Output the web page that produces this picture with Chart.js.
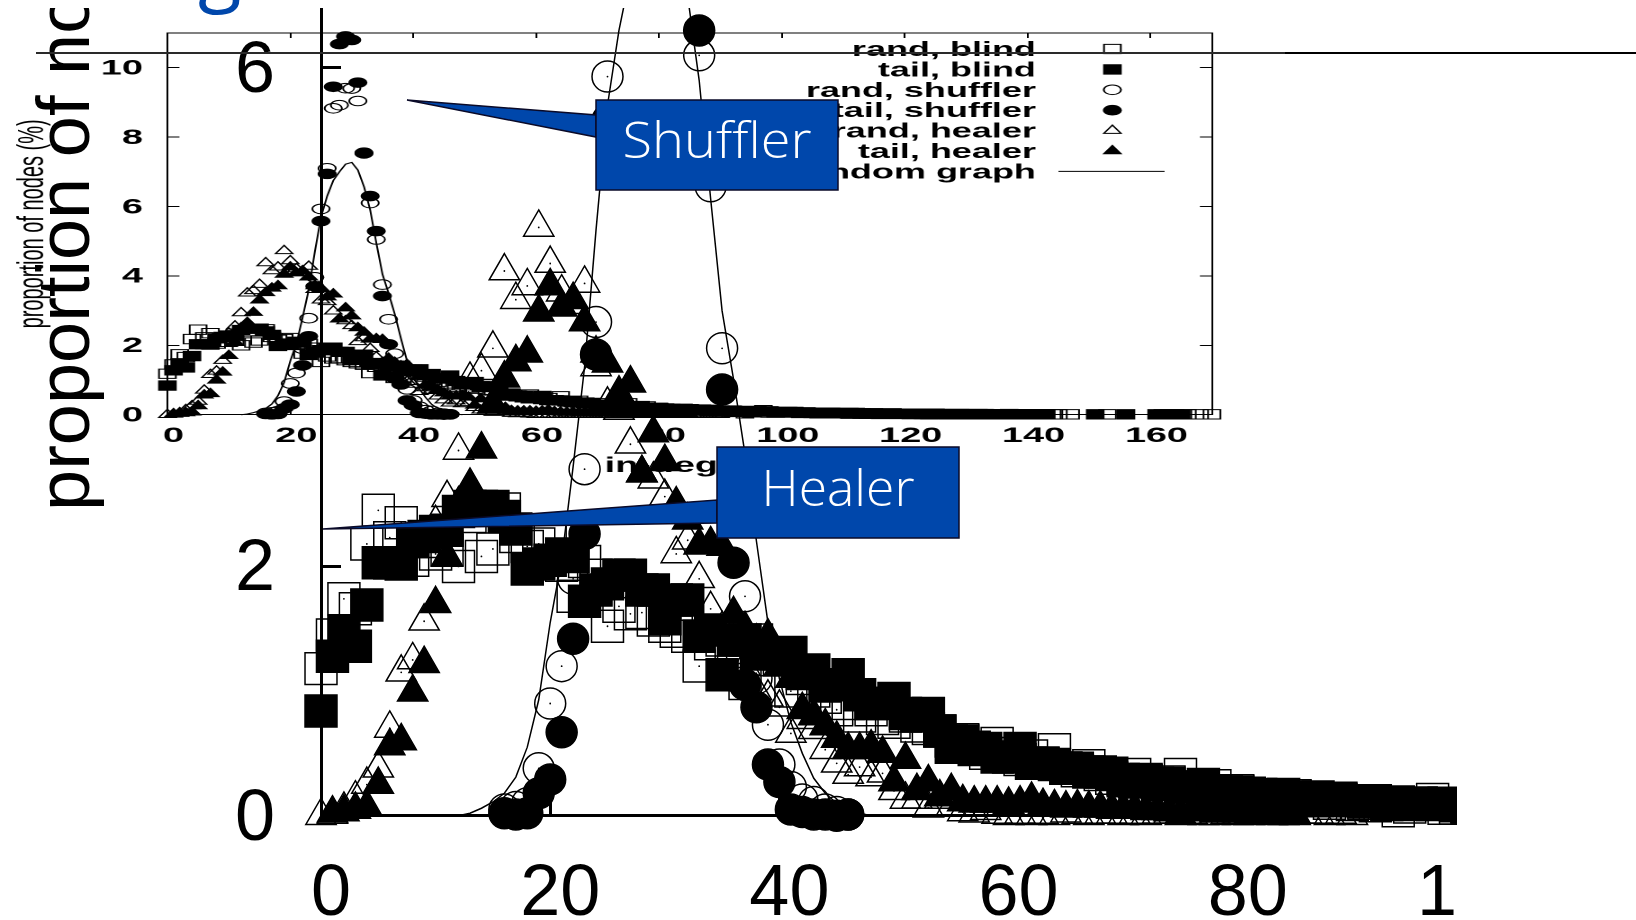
<!DOCTYPE html>
<html>
<head>
<meta charset="utf-8">
<title>in-degree distribution</title>
<script src="https://cdn.jsdelivr.net/npm/chart.js@4/dist/chart.umd.min.js"></script>
<style>
  html, body { margin: 0; padding: 0; background: #fff; overflow: hidden; }
  #stage { position: relative; width: 1636px; height: 920px; overflow: hidden; background: #fff; }
  #insetBox { position: absolute; left: 0; top: 0; transform-origin: 0 0; transform: scaleX(1.8); }
  #mainBox { position: absolute; left: 0; top: 8px; width: 1457px; height: 912px; overflow: hidden; }
  #mainBox canvas { position: absolute; left: 0; top: -68px; }
  #rule { position: absolute; left: 36px; right: 0; top: 52px; height: 2px; background: linear-gradient(to right, #2a2a2a 1249px, #000 1249px); }
  #blueG { position: absolute; left: 198px; top: -90px; font: 80px "Open Sans", sans-serif; color: #0047ab; }
  #marks { position: absolute; left: 0; top: 0; }
</style>
</head>
<body>
<div id="stage">
  <div id="insetBox"><canvas id="insetChart" width="683" height="500"></canvas></div>
  <div id="mainBox"><canvas id="mainChart" width="1560" height="980"></canvas></div>
  <div id="blueG">g</div>
  <div id="rule"></div>
  <svg id="marks" width="1636" height="920" font-family="Open Sans" font-weight="300">
    <polygon points="407,100 596,115 596,137" fill="#0047ab" stroke="#0a0a28" stroke-width="1.5"/>
    <rect x="596" y="100" width="242" height="90" fill="#0047ab" stroke="#0a0a28" stroke-width="1.5"/>
    <text x="717" y="158" fill="#fff" font-size="50" text-anchor="middle" textLength="189" lengthAdjust="spacingAndGlyphs">Shuffler</text>
    <polygon points="323,529 717,500 717,523" fill="#0047ab" stroke="#0a0a28" stroke-width="1.5"/>
    <rect x="717" y="447" width="242" height="91" fill="#0047ab" stroke="#0a0a28" stroke-width="1.5"/>
    <text x="838" y="506" fill="#fff" font-size="50" text-anchor="middle" textLength="153" lengthAdjust="spacingAndGlyphs">Healer</text>
  </svg>
</div>
<script>
const randBlind = [1.18,1.45,1.74,1.66,2.18,2.45,2.23,2.35,2.05,2.2,2.1,2.13,2.0,2.4,2.08,2.14,2.46,2.24,2.16,2.18,
  2.21,2.01,1.76,2.04,1.93,1.52,1.68,1.62,1.63,1.57,1.52,1.48,1.44,1.2,1.38,1.41,1.35,1.06,1.41,1.25,
  1.25,1.0,1.1,1.0,.95,.85,.9,.8,.85,.78,.75,.8,.72,.7,.68,.6,.61,.55,.5,.58,
  .5,.45,.48,.42,.53,.38,.36,.4,.33,.3,.28,.33,.28,.25,.27,.33,.22,.2,.24,.18,
  .2,.17,.16,.14,.15,.16,.13,.12,.1,.13,.09,.1,.08,.09,.04,.07,.1,.13,.06,.06,
  .07,.06,.08,.05,.06,.05,.04,.05,.06,.04,.04,.03,.05,.03,.03,.04,.02,.03,.03,.02,
  .03,.02,.02,.02,.01,.02,.02,.01,.01,.02,.01,.01,.02,.01,.01,.01,.01,.01,.01,.01,
  .01,.01,.01,.01,.01,.01,null,.01,null,null,null,null,null,.01,null,null,null,null,null,null,
  null,null,null,null,null,null,.01,null,.01,null,.01];
const tailBlind = [.84,1.28,1.48,1.36,1.69,2.03,2.03,2.02,2.2,2.24,2.28,2.29,2.44,2.48,2.48,2.48,2.4,2.3,1.98,2.02,
  2.05,2.1,2.08,1.72,1.81,1.86,1.93,1.93,1.81,1.81,1.58,1.73,1.73,1.44,1.49,1.13,1.41,1.41,1.3,1.3,
  1.3,1.31,1.14,1.17,1.04,1.05,1.13,.97,.9,.9,.94,.82,.8,.82,.68,.55,.6,.53,.54,.47,
  .47,.54,.42,.42,.41,.38,.38,.35,.35,.34,.29,.27,.29,.26,.26,.23,.23,.25,.2,.19,
  .19,.18,.17,.16,.17,.15,.14,.15,.13,.14,.12,.11,.12,.1,.11,.09,.1,.09,.1,.08,
  .07,.08,.07,.06,.07,.06,.05,.06,.05,.05,.04,.05,.04,.04,.03,.04,.03,.03,.04,.03,
  .03,.02,.03,.02,.02,.03,.02,.02,.01,.02,.02,.01,.01,.02,.01,.01,.01,.02,.01,.01,
  .01,.01,.01,.01,null,null,null,null,null,null,null,.01,null,null,null,null,.01,null,null,null,
  null,.01,.01,.01,.01,.01];
const randShuffler = [null,null,null,null,null,null,null,null,null,null,null,null,null,null,null,null,.05,.07,.1,.38,
  .9,1.2,1.9,2.78,3.96,5.93,7.1,8.83,8.92,9.41,9.4,9.04,7.55,6.1,5.05,3.75,2.75,1.76,1.1,.73,
  .41,.23,.13,.11,.05,.03,.01];
const tailShuffler = [null,null,null,null,null,null,null,null,null,null,null,null,null,null,null,null,.02,.01,.02,.18,
  .29,.67,1.42,2.26,3.7,5.58,6.94,9.45,10.68,10.9,10.8,9.57,7.53,6.3,5.29,3.42,2.03,1.05,.87,.41,
  .27,.05,.03,.01,.01,0,.01];
const randHealer = [0,.01,.05,.14,.25,.38,.7,1.15,1.25,1.56,2.35,2.55,2.93,3.5,3.57,3.75,4.37,4.14,4.25,4.72,
  4.43,4.2,4.1,4.27,3.6,3.3,3.25,2.98,2.75,2.7,2.56,2.1,2.21,1.9,1.66,1.5,1.4,1.2,1.0,.95,
  .87,.66,.77,.69,.53,.42,.33,.39,.31,.34,.2,.13,.13,.06,.13,.07,.03,.02,.04,.01,
  0,.01,0,.01,0,.02,.01,0,.01,.01,0,.01,0,.01,.01,0,.01,0,0,.01,
  0,0,.01,0,0,0,.01,.01,0,.01,0];
const tailHealer = [null,.02,.03,.05,.07,.25,.56,.6,.99,1.22,1.7,2.08,2.5,2.65,2.94,3.3,3.51,3.64,3.71,4.04,
  4.25,4.08,4.14,3.96,3.71,3.63,3.39,3.47,2.75,3.07,2.84,2.5,2.37,2.17,2.18,2.16,1.62,1.5,1.4,1.44,
  1.2,1.1,.85,.8,.72,.62,.53,.53,.55,.5,.27,.45,.2,.27,.15,.2,.11,.1,.1,.1,
  .09,.1,.13,.08,.07,.06,.07,.06,.06,.05,.05,.05,.04,.04,.03,.01,.03,.04,.02,.03,
  .02,.01,.02,.01,.02,.01];
const randomGraph = [null,null,null,null,null,null,null,null,null,null,null,null,0,.02,.06,.11,.18,.31,.55,.93,
  1.55,2.05,2.8,3.6,4.7,5.7,6.3,6.75,7.0,7.22,7.27,7.05,6.57,5.9,4.95,4.05,3.5,2.9,2.2,1.55,
  1.1,.75,.5,.3,.18,.1,.05,.02,0];

const seriesNames = ['rand, blind','tail, blind','rand, shuffler','tail, shuffler','rand, healer','tail, healer','random graph'];
const seriesValues = [randBlind,tailBlind,randShuffler,tailShuffler,randHealer,tailHealer,randomGraph];
const seriesShapes = ['rect','rect','circle','circle','triangle','triangle',false];
const seriesFilled = [false,true,false,true,false,true,false];

const insetXTicks = [0,20,40,60,80,100,120,140,160];
const insetYTicks = [0,2,4,6,8,10];
const mainXTicks = [0,20,40,60,80,100];
const mainYTicks = [0,2,6];

function toPoints(vals){
  return vals.map((v,i)=>({x:i,y:v})).filter(p=>p.y!==null);
}

// tick lists come from the arrays above, not from the scale
function fixedTicks(list){
  return scale => { scale.ticks = list.map(v=>({value:v})); };
}
function noPadding(size, key){
  return scale => {
    scale[key] = size;
    scale.paddingLeft = scale.paddingRight = scale.paddingTop = scale.paddingBottom = 0;
  };
}

function buildDatasets(radius, border, withDots){
  const sets = [];
  seriesNames.forEach((name,i)=>{
    const shape = seriesShapes[i];
    sets.push({
      label: name,
      data: toPoints(seriesValues[i]),
      showLine: shape===false,
      pointStyle: shape,
      pointRadius: shape===false ? 0 : radius[shape],
      pointBorderWidth: border,
      pointBorderColor: '#000',
      pointBackgroundColor: seriesFilled[i] ? '#000' : 'transparent',
      borderColor: '#000',
      borderWidth: border,
      tension: 0,
      order: 20-i,
      clip: withDots ? {left:40,right:0,top:0,bottom:60} : false
    });
    // little centre dot on the open marks of the big plot
    if(withDots && shape!==false && !seriesFilled[i]){
      sets.push({
        label: name+' centre',
        data: toPoints(seriesValues[i]),
        showLine: false,
        pointStyle: 'circle',
        pointRadius: 0.9,
        pointBorderWidth: 0,
        pointBackgroundColor: '#000',
        order: 20-i,
        clip: {left:40,right:0,top:0,bottom:60}
      });
    }
  });
  return sets;
}

// gnuplot style key: right aligned names, sample to the right
const insetKey = {
  id: 'insetKey',
  afterDraw(chart){
    const h = Chart.helpers, ctx = chart.ctx;
    ctx.save();
    seriesNames.forEach((name,i)=>{
      const y = 49 + i*20.4;
      ctx.font = 'bold 20px "Liberation Sans"';
      ctx.fillStyle = '#000';
      ctx.textAlign = 'right';
      ctx.textBaseline = 'middle';
      ctx.fillText(name, 575.5, y+1.5);
      if(seriesShapes[i]===false){
        ctx.strokeStyle = '#000';
        ctx.lineWidth = 1;
        ctx.beginPath();
        ctx.moveTo(588,y);
        ctx.lineTo(647,y);
        ctx.stroke();
      } else {
        ctx.strokeStyle = '#000';
        ctx.lineWidth = 1;
        ctx.fillStyle = seriesFilled[i] ? '#000' : '#fff';
        h.drawPoint(ctx,{pointStyle:seriesShapes[i],rotation:0,borderWidth:1,
          radius:{rect:6.6,circle:4.8,triangle:5.5}[seriesShapes[i]]},618,y);
      }
    });
    ctx.restore();
  }
};

// big y title starts half way up and runs off the top of the picture
const mainTitle = {
  id: 'mainTitle',
  afterDraw(chart){
    const ctx = chart.ctx;
    ctx.save();
    ctx.translate(89,571);
    ctx.rotate(-Math.PI/2);
    ctx.font = '74px "Liberation Sans"';
    ctx.fillStyle = '#000';
    ctx.textAlign = 'left';
    ctx.textBaseline = 'alphabetic';
    ctx.fillText('proportion of nodes (%)',0,0);
    ctx.restore();
  }
};

const insetFont = {family:'"Liberation Sans"',size:21,weight:'bold'};
const hiddenAxis = {display:true,ticks:{display:false},border:{color:'#000',width:1}};

// the canvas is stretched sideways by the css transform, like the pasted figure
new Chart(document.getElementById('insetChart'),{
  type:'scatter',
  data:{datasets:buildDatasets({rect:6.6,circle:4.8,triangle:5.5},1,false)},
  plugins:[insetKey],
  options:{
    responsive:false,
    animation:false,
    devicePixelRatio:2,
    layout:{padding:{left:0,top:33,right:9.7,bottom:20}},
    plugins:{legend:{display:false},tooltip:{enabled:false}},
    scales:{
      x:{type:'linear',position:'bottom',min:0,max:170,
        afterBuildTicks:fixedTicks(insetXTicks),afterFit:noPadding(65.3,'height'),
        ticks:{font:insetFont,color:'#000',maxRotation:0,autoSkip:false,labelOffset:3.3,padding:14},
        grid:{drawOnChartArea:false,tickLength:-5,color:'#000'},
        border:{color:'#000',width:1},
        title:{display:true,text:'in-degree',font:insetFont,color:'#000',padding:{top:0,bottom:1.4}}},
      y:{type:'linear',position:'left',min:0,max:11,
        afterBuildTicks:fixedTicks(insetYTicks),afterFit:noPadding(93,'width'),
        ticks:{font:insetFont,color:'#000',padding:20.3,labelOffset:1},
        grid:{drawOnChartArea:false,tickLength:-6.7,color:'#000'},
        border:{color:'#000',width:1},
        title:{display:true,text:'proportion of nodes (%)',font:{family:'"Liberation Sans"',size:20},color:'#000',padding:{top:6.5,bottom:0}}},
      xTop:Object.assign({},hiddenAxis,{type:'linear',axis:'x',position:'top',min:0,max:170,
        afterBuildTicks:fixedTicks(insetXTicks),afterFit:noPadding(0,'height'),
        grid:{drawOnChartArea:false,tickLength:-5,color:'#000'}}),
      yRight:Object.assign({},hiddenAxis,{type:'linear',axis:'y',position:'right',min:0,max:11,
        afterBuildTicks:fixedTicks(insetYTicks),afterFit:noPadding(0,'width'),
        grid:{drawOnChartArea:false,tickLength:-6.7,color:'#000'}})
    }
  }
});

const mainFont = {family:'"Liberation Sans"',size:72};

new Chart(document.getElementById('mainChart'),{
  type:'scatter',
  data:{datasets:buildDatasets({rect:22.6,circle:15.5,triangle:17.5},1.5,true)},
  plugins:[mainTitle],
  options:{
    responsive:false,
    animation:false,
    layout:{padding:{left:0,top:68,right:93,bottom:0}},
    plugins:{legend:{display:false},tooltip:{enabled:false}},
    scales:{
      x:{type:'linear',position:'bottom',min:0,max:100,
        afterBuildTicks:fixedTicks(mainXTicks),afterFit:noPadding(104.3,'height'),
        ticks:{font:mainFont,color:'#000',maxRotation:0,autoSkip:false,labelOffset:10,padding:56},
        grid:{drawOnChartArea:false,tickLength:-20,color:'#000',lineWidth:3},
        border:{color:'#000',width:3}},
      y:{type:'linear',position:'left',min:0,max:6.48,
        afterBuildTicks:fixedTicks(mainYTicks),afterFit:noPadding(321,'width'),
        ticks:{font:mainFont,color:'#000',padding:66,labelOffset:4},
        grid:{drawOnChartArea:false,tickLength:-20,color:'#000',lineWidth:3},
        border:{color:'#000',width:3}}
    }
  }
});
</script>
</body>
</html>
